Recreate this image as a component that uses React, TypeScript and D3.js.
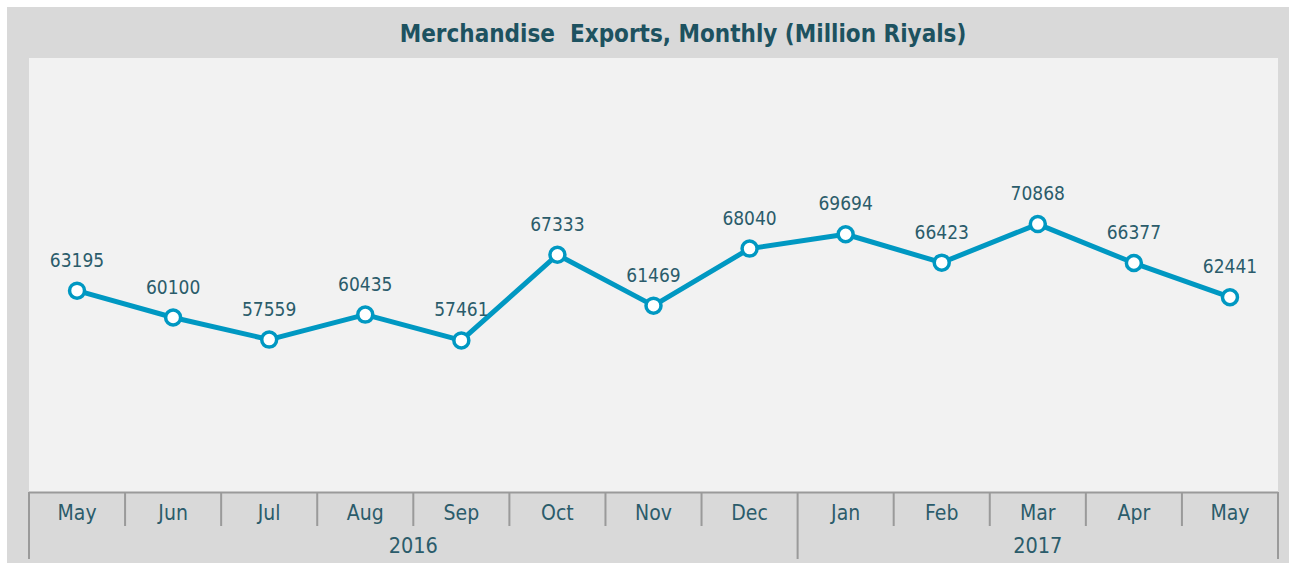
import React from "react";
import * as d3 from "d3";

const months = ["May", "Jun", "Jul", "Aug", "Sep", "Oct", "Nov", "Dec", "Jan", "Feb", "Mar", "Apr", "May"];
const years = [
  { label: "2016", start: 0, end: 8 },
  { label: "2017", start: 8, end: 13 },
];
const values = [63195, 60100, 57559, 60435, 57461, 67333, 61469, 68040, 69694, 66423, 70868, 66377, 62441];
const yDomain = [40000, 90000];

const W = 1289;
const H = 563;
const plot = { left: 29, right: 1278, top: 58, bottom: 492 };

export default function App() {
  const x = d3
    .scaleBand<number>()
    .domain(d3.range(months.length))
    .range([plot.left, plot.right])
    .paddingInner(0)
    .paddingOuter(0);
  const y = d3.scaleLinear().domain(yDomain).range([plot.bottom, plot.top]);
  const cx = (i: number) => (x(i) as number) + x.bandwidth() / 2;
  const line = d3
    .line<number>()
    .x((_, i) => cx(i))
    .y((d) => y(d));

  const lineColor = "#0098c2";
  const textColor = "#2b5c6b";
  const font = "'DejaVu Sans Condensed', 'DejaVu Sans', sans-serif";
  const edge = (i: number) => (i < months.length ? (x(i) as number) : plot.right);

  return (
    <div style={{ position: "absolute", left: 0, top: 0 }}>
      <svg width={W} height={H} style={{ display: "block" }}>
        <rect x={0} y={0} width={W} height={H} fill="#ffffff" />
        <rect x={7} y={7} width={W - 7} height={H - 7} fill="#d9d9d9" />
        <rect x={plot.left} y={plot.top} width={plot.right - plot.left} height={plot.bottom - plot.top} fill="#f2f2f2" />
        <text
          x={683}
          y={42}
          textAnchor="middle"
          fontFamily={font}
          fontWeight="bold"
          fontSize={24}
          fill="#1d5260"
          style={{ whiteSpace: "pre" }}
        >
          {"Merchandise  Exports, Monthly (Million Riyals)"}
        </text>

        {/* axis */}
        <line x1={plot.left} x2={plot.right} y1={plot.bottom + 0.5} y2={plot.bottom + 0.5} stroke="#9a9a9a" strokeWidth={2} />
        {d3.range(months.length + 1).map((i) => {
          const isYear = years.some((yr) => yr.start === i || yr.end === i);
          const xx = edge(i);
          return (
            <line
              key={"t" + i}
              x1={xx}
              x2={xx}
              y1={plot.bottom}
              y2={isYear ? 559 : 526}
              stroke="#9a9a9a"
              strokeWidth={2}
            />
          );
        })}
        {months.map((m, i) => (
          <text key={"m" + i} x={cx(i)} y={520} textAnchor="middle" fontFamily={font} fontSize={21} fill={textColor}>
            {m}
          </text>
        ))}
        {years.map((yr) => (
          <text
            key={yr.label}
            x={(edge(yr.start) + edge(yr.end)) / 2}
            y={553}
            textAnchor="middle"
            fontFamily={font}
            fontSize={21.5}
            fill={textColor}
          >
            {yr.label}
          </text>
        ))}

        <path d={line(values) || ""} fill="none" stroke={lineColor} strokeWidth={5} strokeLinejoin="round" />
        {values.map((v, i) => (
          <circle key={"c" + i} cx={cx(i)} cy={y(v)} r={7.5} fill="#ffffff" stroke={lineColor} strokeWidth={3.5} />
        ))}
        {values.map((v, i) => (
          <text key={"l" + i} x={cx(i)} y={y(v) - 24} textAnchor="middle" fontFamily={font} fontSize={19} fill={textColor}>
            {v}
          </text>
        ))}
      </svg>
    </div>
  );
}
